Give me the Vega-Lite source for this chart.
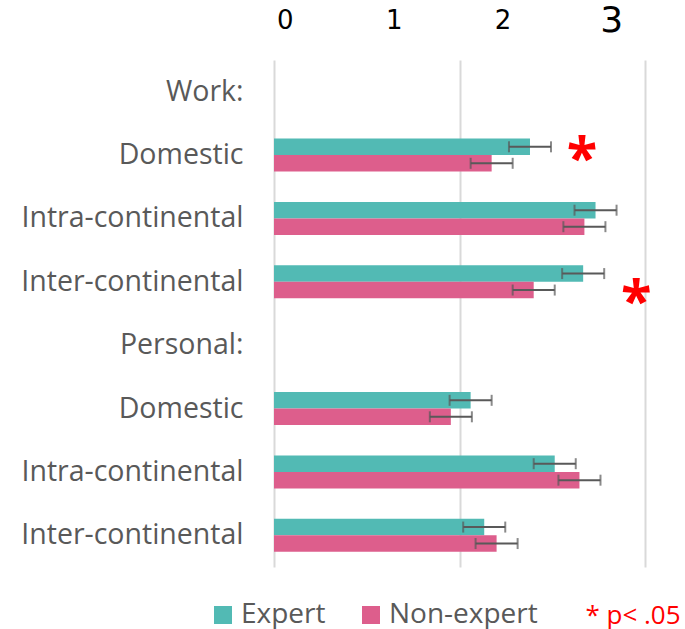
{
  "$schema": "https://vega.github.io/schema/vega-lite/v6.json",
  "autosize": "none",
  "width": 371,
  "height": 507,
  "padding": {"left": 274, "top": 60, "right": 40, "bottom": 62},
  "background": "white",
  "config": {"view": {"stroke": null}, "font": "Open Sans"},
  "datasets": {
    "bars": [
      {"key": "W1|Domestic", "group": "Expert", "value": 2.07, "lo": 1.9, "hi": 2.24},
      {"key": "W1|Domestic", "group": "Non-expert", "value": 1.76, "lo": 1.59, "hi": 1.93},
      {"key": "W2|Intra-continental", "group": "Expert", "value": 2.6, "lo": 2.43, "hi": 2.77},
      {"key": "W2|Intra-continental", "group": "Non-expert", "value": 2.51, "lo": 2.34, "hi": 2.68},
      {"key": "W3|Inter-continental", "group": "Expert", "value": 2.5, "lo": 2.33, "hi": 2.67},
      {"key": "W3|Inter-continental", "group": "Non-expert", "value": 2.1, "lo": 1.93, "hi": 2.27},
      {"key": "P1|Domestic", "group": "Expert", "value": 1.59, "lo": 1.42, "hi": 1.76},
      {"key": "P1|Domestic", "group": "Non-expert", "value": 1.43, "lo": 1.26, "hi": 1.6},
      {"key": "P2|Intra-continental", "group": "Expert", "value": 2.27, "lo": 2.1, "hi": 2.44},
      {"key": "P2|Intra-continental", "group": "Non-expert", "value": 2.47, "lo": 2.3, "hi": 2.64},
      {"key": "P3|Inter-continental", "group": "Expert", "value": 1.7, "lo": 1.53, "hi": 1.87},
      {"key": "P3|Inter-continental", "group": "Non-expert", "value": 1.8, "lo": 1.63, "hi": 1.97}
    ],
    "stars": [
      {"key": "W1|Domestic", "group": "Expert", "x": 2.49},
      {"key": "W3|Inter-continental", "group": "Non-expert", "x": 2.93}
    ]
  },
  "title": {
    "text": "* p< .05",
    "orient": "bottom",
    "anchor": "end",
    "color": "#ff0000",
    "fontSize": 26,
    "fontWeight": "normal",
    "font": "Open Sans",
    "dx": 29,
    "dy": -4,
    "offset": -22
  },
  "layer": [
    {
      "layer": [
        {
          "data": {"name": "bars"},
          "mark": {"type": "bar"},
          "encoding": {
            "y": {
              "field": "key", "type": "nominal",
              "scale": {
                "domain": ["W0|Work:", "W1|Domestic", "W2|Intra-continental", "W3|Inter-continental", "P0|Personal:", "P1|Domestic", "P2|Intra-continental", "P3|Inter-continental"],
                "paddingInner": 0.48, "paddingOuter": 0.24
              },
              "axis": {
                "title": null, "domain": false, "ticks": false,
                "labelExpr": "split(datum.label, '|')[1]",
                "labelFont": "Open Sans", "labelFontSize": 28.5, "labelColor": "#595959",
                "labelPadding": 31, "labelLimit": 300
              }
            },
            "yOffset": {"field": "group", "type": "nominal", "sort": ["Expert", "Non-expert"]},
            "x": {
              "field": "value", "type": "quantitative",
              "scale": {"domain": [0, 3], "nice": false, "zero": true},
              "axis": {
                "title": null, "values": [0, 1.5, 3], "labels": false, "ticks": false, "domain": false,
                "grid": true, "gridColor": "#d9d9d9", "gridWidth": 2
              }
            },
            "color": {
              "field": "group", "type": "nominal",
              "scale": {"domain": ["Expert", "Non-expert"], "range": ["#52bab4", "#dd5e8c"]},
              "legend": {
                "title": null, "orient": "none", "direction": "horizontal",
                "legendX": -65, "legendY": 541,
                "symbolType": "square", "symbolSize": 324, "symbolStrokeWidth": 0,
                "labelFont": "Open Sans", "labelFontSize": 28, "labelColor": "#595959",
                "labelOffset": 4, "columnPadding": 31
              }
            }
          }
        },
        {
          "data": {"name": "bars"},
          "mark": {"type": "rule", "color": "#595959", "strokeWidth": 2},
          "encoding": {
            "y": {"field": "key", "type": "nominal"},
            "yOffset": {"field": "group", "type": "nominal", "sort": ["Expert", "Non-expert"]},
            "x": {"field": "lo", "type": "quantitative"},
            "x2": {"field": "hi"}
          }
        },
        {
          "data": {"name": "bars"},
          "mark": {"type": "tick", "color": "#595959", "thickness": 2, "size": 11, "orient": "vertical"},
          "encoding": {
            "y": {"field": "key", "type": "nominal"},
            "yOffset": {"field": "group", "type": "nominal", "sort": ["Expert", "Non-expert"]},
            "x": {"field": "lo", "type": "quantitative"}
          }
        },
        {
          "data": {"name": "bars"},
          "mark": {"type": "tick", "color": "#595959", "thickness": 2, "size": 11, "orient": "vertical"},
          "encoding": {
            "y": {"field": "key", "type": "nominal"},
            "yOffset": {"field": "group", "type": "nominal", "sort": ["Expert", "Non-expert"]},
            "x": {"field": "hi", "type": "quantitative"}
          }
        },
        {
          "data": {"name": "stars"},
          "mark": {"type": "text", "text": "*", "color": "#ff0000", "fontSize": 56, "fontWeight": "bold", "font": "Open Sans", "align": "center", "baseline": "alphabetic", "dy": 30},
          "encoding": {
            "y": {"field": "key", "type": "nominal"},
            "yOffset": {"field": "group", "type": "nominal", "sort": ["Expert", "Non-expert"]},
            "x": {"field": "x", "type": "quantitative"}
          }
        }
      ]
    },
    {
      "data": {"name": "bars"},
      "mark": {"type": "point", "opacity": 0},
      "encoding": {
        "x": {
          "field": "value", "type": "quantitative",
          "scale": {"domain": [-0.1, 3.31], "nice": false, "zero": false},
          "axis": {
            "orient": "top", "title": null, "values": [0, 1, 2, 3], "format": "d",
            "domain": false, "ticks": false, "grid": false,
            "labelFont": "DejaVu Sans", "labelColor": "#000000",
            "labelFontSize": {"expr": "datum.value == 3 ? 36 : 26"},
            "labelBaseline": "middle",
            "labelPadding": 40
          }
        }
      }
    }
  ],
  "resolve": {"scale": {"x": "independent"}}
}
